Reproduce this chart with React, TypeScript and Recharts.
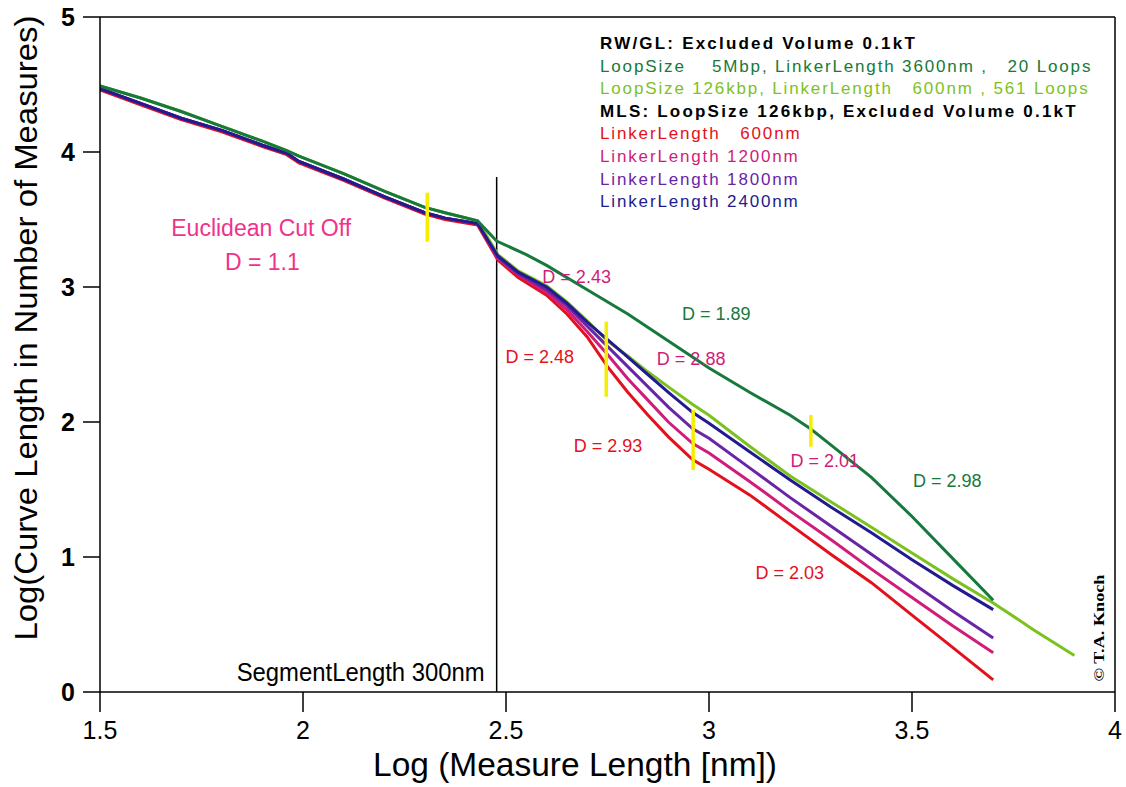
import { Legend, Line, LineChart, ReferenceDot, ReferenceLine, XAxis, YAxis } from "recharts";

const FONT = "'Liberation Sans', Arial, Helvetica, sans-serif";

const xTicks = [1.5, 2, 2.5, 3, 3.5, 4];
const yTicks = [0, 1, 2, 3, 4, 5];

// Euclidean regime, all runs nearly on top of each other
const xEarly = [1.5, 1.6, 1.7, 1.8, 1.9, 1.96, 1.99, 2.1, 2.2, 2.3, 2.35, 2.43];
const yRwEarly = [4.49, 4.4, 4.3, 4.19, 4.08, 4.01, 3.97, 3.84, 3.71, 3.59, 3.55, 3.49];
const yMlsEarly = [4.47, 4.36, 4.25, 4.16, 4.05, 3.99, 3.93, 3.8, 3.67, 3.55, 3.51, 3.47];
const yRedEarly = [4.46, 4.35, 4.24, 4.15, 4.04, 3.98, 3.92, 3.79, 3.66, 3.54, 3.5, 3.46];

// MLS runs + RW/GL 126kbp beyond the segment length
const xLate = [2.48, 2.53, 2.6, 2.65, 2.7, 2.75, 2.8, 2.85, 2.9, 2.96, 3.0, 3.1, 3.2, 3.3, 3.4, 3.5, 3.6, 3.7];
const yRed = [3.2, 3.07, 2.94, 2.8, 2.63, 2.41, 2.22, 2.05, 1.89, 1.72, 1.65, 1.46, 1.24, 1.02, 0.81, 0.57, 0.33, 0.09];
const yMagenta = [3.21, 3.09, 2.96, 2.83, 2.67, 2.5, 2.32, 2.16, 2.0, 1.84, 1.77, 1.56, 1.34, 1.13, 0.91, 0.7, 0.49, 0.29];
const yPurple = [3.22, 3.1, 2.98, 2.86, 2.71, 2.56, 2.41, 2.26, 2.11, 1.95, 1.88, 1.66, 1.44, 1.23, 1.02, 0.81, 0.6, 0.4];
const yBlue = [3.23, 3.11, 3.0, 2.88, 2.74, 2.61, 2.48, 2.35, 2.22, 2.07, 1.99, 1.78, 1.57, 1.37, 1.18, 0.98, 0.79, 0.61];
const yLight = [3.24, 3.12, 3.01, 2.89, 2.75, 2.6, 2.49, 2.37, 2.26, 2.13, 2.05, 1.82, 1.6, 1.41, 1.22, 1.03, 0.84, 0.66];
const xLightTail = [3.8, 3.9];
const yLightTail = [0.46, 0.27];

// RW/GL 5Mbp
const xRwLate = [2.477, 2.55, 2.6, 2.7, 2.8, 2.9, 3.0, 3.1, 3.2, 3.25, 3.3, 3.4, 3.5, 3.6, 3.7];
const yRwLate = [3.34, 3.24, 3.16, 2.98, 2.8, 2.6, 2.4, 2.22, 2.05, 1.95, 1.83, 1.59, 1.3, 0.99, 0.68];

const segmentLog = 2.477; // log10(300 nm)
const segmentTop = 3.815;

// yellow cut-off markers
const cutMarks = [
  { x: 2.306, from: 3.336, to: 3.699 },
  { x: 2.747, from: 2.187, to: 2.743 },
  { x: 2.961, from: 1.644, to: 2.089 },
  { x: 3.251, from: 1.817, to: 2.052 },
];

const notes = [
  { x: 1.897, y: 3.437, text: "Euclidean Cut Off", kind: "pink" },
  { x: 1.9, y: 3.185, text: "D = 1.1", kind: "pink" },
  { x: 2.674, y: 3.074, text: "D = 2.43", kind: "magenta" },
  { x: 3.018, y: 2.8, text: "D = 1.89", kind: "dark" },
  { x: 2.583, y: 2.481, text: "D = 2.48", kind: "red" },
  { x: 2.956, y: 2.463, text: "D = 2.88", kind: "magenta" },
  { x: 2.751, y: 1.822, text: "D = 2.93", kind: "red" },
  { x: 3.285, y: 1.711, text: "D = 2.01", kind: "magenta" },
  { x: 3.587, y: 1.563, text: "D = 2.98", kind: "dark" },
  { x: 3.199, y: 0.881, text: "D = 2.03", kind: "red" },
];

const legendLines = [
  { text: "RW/GL: Excluded Volume 0.1kT", kind: "head" },
  { text: "LoopSize    5Mbp, LinkerLength 3600nm ,   20 Loops", kind: "dark" },
  { text: "LoopSize 126kbp, LinkerLength   600nm , 561 Loops", kind: "light" },
  { text: "MLS: LoopSize 126kbp, Excluded Volume 0.1kT", kind: "head" },
  { text: "LinkerLength   600nm", kind: "red" },
  { text: "LinkerLength 1200nm", kind: "magenta" },
  { text: "LinkerLength 1800nm", kind: "purple" },
  { text: "LinkerLength 2400nm", kind: "blue" },
];

const COLORS: Record<string, string> = {
  head: "#000000",
  dark: "#17793b",
  light: "#7cc21f",
  red: "#e3111b",
  magenta: "#d01c7a",
  purple: "#6a24a6",
  blue: "#221a8f",
  pink: "#f0328c",
  yellow: "#f4ee00",
};

const pts = (xs: number[], ys: number[]) => xs.map((x, i) => ({ x, y: ys[i] }));

const redData = [...pts(xEarly, yRedEarly), ...pts(xLate, yRed)];
const magentaData = [...pts(xEarly, yMlsEarly), ...pts(xLate, yMagenta)];
const purpleData = [...pts(xEarly, yMlsEarly), ...pts(xLate, yPurple)];
const blueData = [...pts(xEarly, yMlsEarly), ...pts(xLate, yBlue)];
const lightData = [...pts(xEarly, yRwEarly), ...pts(xLate, yLight), ...pts(xLightTail, yLightTail)];
const darkData = [...pts(xEarly, yRwEarly), ...pts(xRwLate, yRwLate)];

const series = [
  { key: "red", data: redData },
  { key: "magenta", data: magentaData },
  { key: "purple", data: purpleData },
  { key: "light", data: lightData },
  { key: "blue", data: blueData },
  { key: "dark", data: darkData },
];

function LegendBlock() {
  return (
    <div style={{ fontFamily: FONT, fontSize: 17, lineHeight: "22.6px", whiteSpace: "pre" }}>
      {legendLines.map((l) => (
        <div
          key={l.text}
          style={{
            color: COLORS[l.kind],
            fontWeight: l.kind === "head" ? "bold" : "normal",
            letterSpacing: l.kind === "head" ? 2.2 : 1.85,
          }}
        >
          {l.text}
        </div>
      ))}
    </div>
  );
}

const noteShape = (n: { text: string; kind: string }, size: number) => (p: any) => (
  <text
    x={p.cx}
    y={p.cy}
    textAnchor="middle"
    dominantBaseline="central"
    fill={COLORS[n.kind]}
    fontSize={size}
    fontFamily={FONT}
  >
    {n.text}
  </text>
);

export default function App() {
  return (
    <div style={{ position: "absolute", left: 0, top: 0, background: "#fff" }}>
      <LineChart width={1126} height={787} margin={{ top: 17, right: 11, bottom: 0, left: 0 }}>
        <XAxis
          dataKey="x"
          type="number"
          domain={[1.5, 4]}
          ticks={xTicks}
          allowDataOverflow
          height={95}
          tickSize={20}
          tickMargin={9}
          axisLine={{ stroke: "#000", strokeWidth: 1.5 }}
          tickLine={{ stroke: "#000", strokeWidth: 1.5 }}
          tick={{ fontSize: 25, fill: "#000", fontFamily: FONT }}
          label={(props: any) => (
            <text
              x={props.viewBox.x + 475}
              y={props.viewBox.y + 84}
              textAnchor="middle"
              fontSize={33}
              fontFamily={FONT}
              fill="#000"
              textLength={404}
              lengthAdjust="spacingAndGlyphs"
            >
              Log (Measure Length [nm])
            </text>
          )}
        />
        <YAxis
          type="number"
          domain={[0, 5]}
          ticks={yTicks}
          allowDataOverflow
          width={100}
          tickSize={17}
          tickMargin={8}
          axisLine={{ stroke: "#000", strokeWidth: 1.5 }}
          tickLine={{ stroke: "#000", strokeWidth: 1.5 }}
          tick={{ fontSize: 25, fill: "#000", fontFamily: FONT, fontWeight: "bold" }}
          label={(props: any) => {
            const cx = props.viewBox.x + 37;
            const cy = props.viewBox.y + 311;
            return (
              <text
                x={cx}
                y={cy}
                transform={`rotate(-90 ${cx} ${cy})`}
                textAnchor="middle"
                fontSize={31}
                fontFamily={FONT}
                fill="#000"
                textLength={625}
                lengthAdjust="spacingAndGlyphs"
              >
                Log(Curve Length in Number of Measures)
              </text>
            );
          }}
        />
        <ReferenceLine y={5} stroke="#000" strokeWidth={1.5} />
        <ReferenceLine x={4} stroke="#000" strokeWidth={1.5} />
        <ReferenceLine
          segment={[
            { x: segmentLog, y: 0 },
            { x: segmentLog, y: segmentTop },
          ]}
          stroke="#000"
          strokeWidth={1.5}
        />

        {series.map((s) => (
          <Line
            key={s.key}
            data={s.data}
            dataKey="y"
            type="linear"
            stroke={COLORS[s.key]}
            strokeWidth={3}
            dot={false}
            activeDot={false}
            isAnimationActive={false}
          />
        ))}

        {cutMarks.map((m) => (
          <ReferenceLine
            key={m.x}
            segment={[
              { x: m.x, y: m.from },
              { x: m.x, y: m.to },
            ]}
            stroke={COLORS.yellow}
            strokeWidth={3.5}
          />
        ))}

        {notes.map((n, i) => (
          <ReferenceDot
            key={i}
            x={n.x}
            y={n.y}
            r={0}
            shape={noteShape(n, n.kind === "pink" ? 23 : 18)}
          />
        ))}

        <ReferenceDot
          x={2.4475}
          y={0.148}
          r={0}
          shape={(p: any) => (
            <text
              x={p.cx}
              y={p.cy}
              textAnchor="end"
              dominantBaseline="central"
              fontSize={25}
              fontFamily={FONT}
              fill="#000"
              textLength={248}
              lengthAdjust="spacingAndGlyphs"
            >
              SegmentLength 300nm
            </text>
          )}
        />
        <ReferenceDot
          x={3.963}
          y={0.474}
          r={0}
          shape={(p: any) => (
            <text
              x={p.cx}
              y={p.cy}
              transform={`rotate(-90 ${p.cx} ${p.cy})`}
              textAnchor="middle"
              dominantBaseline="central"
              fontSize={14}
              fontWeight="bold"
              fontFamily="'Liberation Serif', 'DejaVu Serif', serif"
              fill="#000"
              textLength={107}
              lengthAdjust="spacingAndGlyphs"
            >
              © T.A. Knoch
            </text>
          )}
        />

        <Legend
          layout="vertical"
          align="center"
          verticalAlign="middle"
          wrapperStyle={{ left: 600, top: 33, width: 520 }}
          content={() => <LegendBlock />}
        />
      </LineChart>
    </div>
  );
}
